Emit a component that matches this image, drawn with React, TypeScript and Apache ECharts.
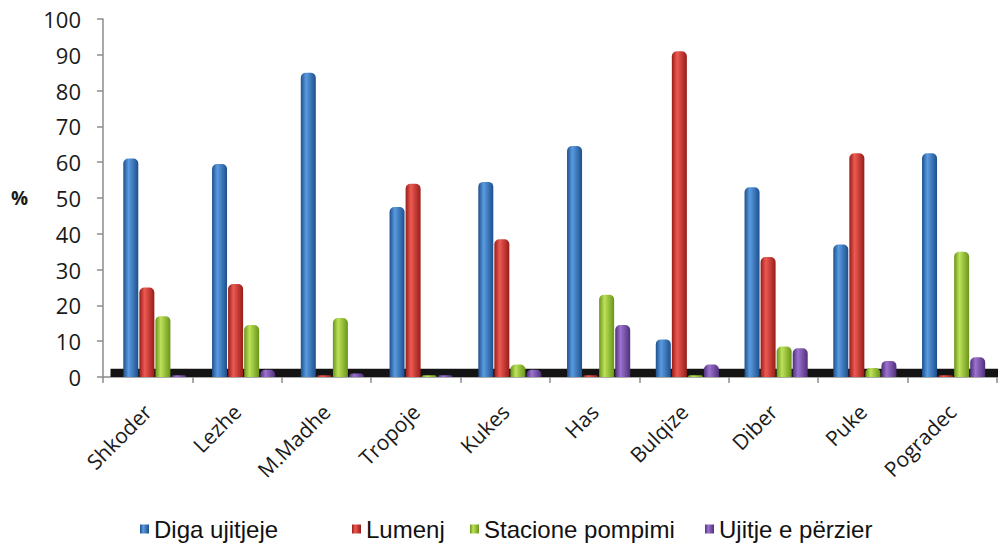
import React, { useEffect, useRef } from 'react';
import * as echarts from 'echarts';

const categories = ['Shkoder', 'Lezhe', 'M.Madhe', 'Tropoje', 'Kukes', 'Has', 'Bulqize', 'Diber', 'Puke', 'Pogradec'];
const seriesNames = ['Diga ujitjeje', 'Lumenj', 'Stacione pompimi', 'Ujitje e përzier'];
const diga = [61, 59.5, 85, 47.5, 54.5, 64.5, 10.5, 53, 37, 62.5];
const lumenj = [25, 26, 0.5, 54, 38.5, 0.5, 91, 33.5, 62.5, 0.5];
const stacione = [17, 14.5, 16.5, 0.5, 3.5, 23, 0.5, 8.5, 2.5, 35];
const perzier = [0.5, 2, 1, 0.5, 2, 14.5, 3.5, 8, 4.5, 5.5];
const yTicks = [0, 10, 20, 30, 40, 50, 60, 70, 80, 90, 100];

const palette = [
  ['#1d4f8c', '#5a9be0'],
  ['#981c19', '#ec5a52'],
  ['#6a9419', '#bde25a'],
  ['#4f2f7a', '#9c72cf'],
];

function grad(dark: string, light: string) {
  return new echarts.graphic.LinearGradient(0, 0, 1, 0, [
    { offset: 0, color: dark },
    { offset: 0.35, color: light },
    { offset: 1, color: dark },
  ]);
}

export default function App() {
  const ref = useRef<HTMLDivElement>(null);
  useEffect(() => {
    document.body.style.margin = '0';
    const chart = echarts.init(ref.current!, null, { renderer: 'svg' });
    const values = [diga, lumenj, stacione, perzier];
    const legendLefts = [140, 352, 470, 705];
    chart.setOption({
      animation: false,
      backgroundColor: '#ffffff',
      grid: [
        { left: 103, width: 894, top: 19, bottom: 169 },
        { left: 110.5, width: 894, top: 19, bottom: 169 },
      ],
      legend: seriesNames.map((n, i) => ({
        data: [n],
        left: legendLefts[i],
        top: 517,
        padding: 0,
        itemWidth: 9,
        itemHeight: 9,
        icon: 'rect',
        textStyle: { fontSize: 24, fontFamily: 'Liberation Sans', color: '#111' },
      })),
      xAxis: [
        {
          type: 'category',
          gridIndex: 0,
          data: categories,
          axisLine: { lineStyle: { color: '#8c8c8c', width: 1.5 } },
          axisTick: { show: true, length: 6, lineStyle: { color: '#8c8c8c', width: 1.5 } },
          axisLabel: { rotate: 45, margin: 31, fontSize: 21, fontFamily: 'Open Sans', color: '#1a1a1a' },
        },
        { type: 'category', gridIndex: 1, data: categories, show: false },
      ],
      yAxis: [
        {
          type: 'value',
          gridIndex: 0,
          min: 0,
          max: 100,
          interval: 10,
          name: '%',
          nameLocation: 'middle',
          nameRotate: 0,
          nameGap: 75,
          nameTextStyle: { fontSize: 19, fontWeight: 'bold', fontFamily: 'Open Sans', color: '#1a1a1a' },
          axisLine: { show: true, lineStyle: { color: '#8c8c8c', width: 1.5 } },
          axisTick: { show: true, length: 6, lineStyle: { color: '#8c8c8c', width: 1.5 } },
          splitLine: { show: false },
          axisLabel: {
            margin: 22,
            fontSize: 22,
            fontFamily: 'Open Sans',
            color: '#1a1a1a',
            formatter: (v: number) => (yTicks.includes(v) ? String(v) : ''),
          },
        },
        { type: 'value', gridIndex: 1, min: 0, max: 100, interval: 10, show: false },
      ],
      series: seriesNames.map((n, i) => ({
        name: n,
        type: 'bar',
        xAxisIndex: 1,
        yAxisIndex: 1,
        data: values[i],
        barWidth: 15,
        barGap: '7%',
        itemStyle: { color: grad(palette[i][0], palette[i][1]), borderRadius: [5, 5, 0, 0] },
        markArea:
          i === 0
            ? {
                silent: true,
                itemStyle: { color: '#141414' },
                data: [[{ yAxis: 0 }, { yAxis: 2.3 }]],
              }
            : undefined,
      })),
    });
    return () => chart.dispose();
  }, []);
  return <div ref={ref} style={{ width: 998, height: 546 }} />;
}
